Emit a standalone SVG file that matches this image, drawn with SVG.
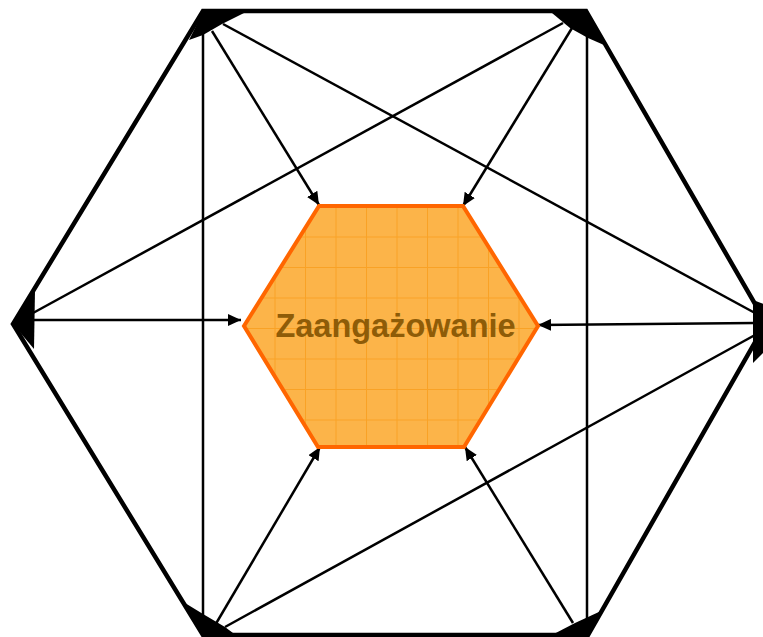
<svg xmlns="http://www.w3.org/2000/svg" width="763" height="637" viewBox="0 0 763 637">
<defs>
<style>
.edge{fill:none;stroke:#000;stroke-width:4.5;stroke-linejoin:miter}
.blob{fill:#000}
.line{fill:none;stroke:#000;stroke-width:2.5}
.arr{fill:none;stroke:#000;stroke-width:2.5;marker-end:url(#ah)}
.inner{fill:url(#grid);stroke:#FF6600;stroke-width:4;stroke-linejoin:miter}
.label{font-family:"Liberation Sans",Arial,sans-serif;font-weight:bold;font-size:32.5px;fill:#8E5C08;text-anchor:middle}
</style>
<marker id="ah" markerUnits="userSpaceOnUse" markerWidth="14" markerHeight="12" refX="13" refY="6" orient="auto">
<path d="M0,0 L13,6 L0,12 z" fill="#000"/>
</marker>
<pattern id="grid" patternUnits="userSpaceOnUse" x="244" y="206" width="30.5" height="30.5">
<rect width="30.5" height="30.5" fill="#FCB449"/>
<path d="M0,0.5 H30.5 M0.5,0 V30.5" stroke="#F9A226" stroke-width="1"/>
</pattern>
</defs>
<g id="outer">
<polygon class="edge" points="203,11 586,11 766,323 588,635 203,635 13,324"/>
<polygon class="blob" points="204,10 246,12 222,24 203,35 189,40"/>
<polygon class="blob" points="552,13 585,9 604,45 588,38 570,28"/>
<polygon class="blob" points="13,324 35,290 34,349"/>
<polygon class="blob" points="753,300 766,305 766,350 753,363"/>
<polygon class="blob" points="185,603 203,614 225,627 237,636 202,636"/>
<polygon class="blob" points="550,636 575,623 601,611 588,637"/>
</g>
<g id="connectors">
<line class="line" x1="203" y1="20" x2="203" y2="630"/>
<line class="line" x1="587" y1="20" x2="587" y2="628"/>
<line class="line" x1="223" y1="24" x2="755" y2="313"/>
<line class="line" x1="563" y1="23" x2="33" y2="313"/>
<line class="line" x1="225" y1="627" x2="755" y2="335"/>
<line class="arr" x1="212" y1="31" x2="319" y2="205"/>
<line class="arr" x1="572" y1="28" x2="463" y2="206"/>
<line class="arr" x1="30" y1="320" x2="241" y2="320"/>
<line class="arr" x1="755" y1="323" x2="538" y2="325"/>
<line class="arr" x1="214" y1="627" x2="320" y2="447"/>
<line class="arr" x1="573" y1="623" x2="465" y2="447"/>
</g>
<g id="center">
<polygon class="inner" points="319,206 463,206 538,326 464,447 318,447 244,326"/>
<text class="label" x="395.5" y="337">Zaangażowanie</text>
</g>
</svg>
